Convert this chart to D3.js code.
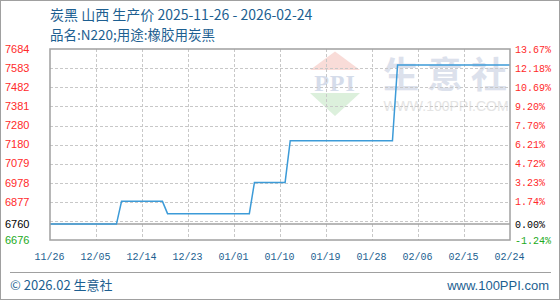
<!DOCTYPE html>
<html><head><meta charset="utf-8">
<script src="https://cdn.jsdelivr.net/npm/d3@7"></script>
<style>
html,body{margin:0;padding:0;background:#fff;}
svg{display:block;}
</style></head>
<body>
<svg id="chart" width="560" height="300"></svg>
<script>
// ---- data ----
const titleText = "炭黑 山西 生产价 2025-11-26 - 2026-02-24";
const subtitleText = "品名:N220;用途:橡胶用炭黑";
const seriesDates = ["2025-11-26","2025-12-09","2025-12-10","2025-12-18","2025-12-19","2026-01-04","2026-01-05","2026-01-11","2026-01-12","2026-02-01","2026-02-02","2026-02-24"];
const seriesValues = [6760,6760,6880,6880,6815,6815,6980,6980,7200,7200,7600,7600];
const xTickDates = ["2025-11-26","2025-12-05","2025-12-14","2025-12-23","2026-01-01","2026-01-10","2026-01-19","2026-01-28","2026-02-06","2026-02-15","2026-02-24"];
const gridValues = [7684,7583,7482,7381,7280,7180,7079,6978,6877,6777];
const leftTickValues = [7684,7583,7482,7381,7280,7180,7079,6978,6877,6760,6676];
const leftTickLabels = ["7684","7583","7482","7381","7280","7180","7079","6978","6877","6760","6676"];
const rightTickLabels = ["13.67%","12.18%","10.69%","9.20%","7.70%","6.21%","4.72%","3.23%","1.74%","0.00%","-1.24%"];
const baseValue = 6760;
const yMin = 6676, yMax = 7684;

// ---- layout ----
const svg = d3.select("#chart");
const L = 50, R = 510, T = 49, B = 240;
const parse = d3.timeParse("%Y-%m-%d");
const fmt = d3.timeFormat("%m/%d");
const x = d3.scaleTime().domain([parse(xTickDates[0]), parse(xTickDates[xTickDates.length-1])]).range([L, R]);
const y = d3.scaleLinear().domain([yMin, yMax]).range([B, T]);
const blue = "#1d5f91";

// outer border
svg.append("rect").attr("x",0.5).attr("y",0.5).attr("width",559).attr("height",299)
  .attr("fill","none").attr("stroke","#a0a0a0").attr("stroke-width",1);

// titles
svg.append("text").attr("x",50).attr("y",20).attr("fill",blue)
  .attr("font-family","'Noto Sans CJK SC', sans-serif").attr("font-size",14).text(titleText);
svg.append("text").attr("x",50).attr("y",39.5).attr("fill",blue)
  .attr("font-family","'Noto Sans CJK SC', sans-serif").attr("font-size",13.5).text(subtitleText);

// watermark
const wm = svg.append("g");
wm.append("path").attr("d", d3.line()([[310,70],[335,51.5],[360,70]]) + "Z").attr("fill","#f9dcd8");
wm.append("text").attr("x",335).attr("y",91).attr("text-anchor","middle")
  .attr("font-family","'Liberation Serif', serif").attr("font-weight","bold").attr("font-size",24)
  .attr("fill","#d5dcea").attr("letter-spacing",1).text("PPI");
wm.append("path").attr("d", d3.line()([[310,93],[360,93],[335,116]]) + "Z").attr("fill","#dcf0dc");
wm.append("text").attr("x",449).attr("y",88).attr("text-anchor","middle")
  .attr("font-family","'Noto Sans CJK SC', sans-serif").attr("font-weight","bold").attr("font-size",36)
  .attr("fill","#dce1ec").attr("letter-spacing",8).text("生意社");
wm.append("text").attr("x",446).attr("y",111).attr("text-anchor","middle")
  .attr("font-family","'Liberation Sans', sans-serif").attr("font-size",14)
  .attr("fill","#e4e4e4").text("WWW.100PPI.COM");

// grid lines
const grid = svg.append("g").attr("stroke","#c8c8c8").attr("stroke-width",1).attr("stroke-dasharray","3,2");
grid.selectAll("line.h").data(gridValues.slice(1)).join("line").attr("class","h")
  .attr("x1",L).attr("x2",R).attr("y1",d=>Math.round(y(d))+0.5).attr("y2",d=>Math.round(y(d))+0.5);
grid.selectAll("line.v").data(xTickDates.slice(1,-1)).join("line").attr("class","v")
  .attr("x1",d=>Math.round(x(parse(d)))+0.5).attr("x2",d=>Math.round(x(parse(d)))+0.5).attr("y1",T).attr("y2",B);

// base line
svg.append("line").attr("x1",L).attr("x2",R).attr("y1",y(baseValue)).attr("y2",y(baseValue))
  .attr("stroke","#a0a0a0").attr("stroke-width",1.5);

// data line
const pts = seriesDates.map((d,i)=>[parse(d), seriesValues[i]]);
svg.append("path").datum(pts)
  .attr("d", d3.line().x(d=>x(d[0])).y(d=>y(d[1])))
  .attr("fill","none").attr("stroke","#3c9bd8").attr("stroke-width",1.5);

// plot border
svg.append("rect").attr("x",L).attr("y",T).attr("width",R-L).attr("height",B-T)
  .attr("fill","none").attr("stroke","#a0a0a0").attr("stroke-width",1.5);

// left labels
const colorFor = (v)=> v > baseValue ? "#ff2a2a" : (v === baseValue ? "#000" : "#22aa22");
svg.append("g").selectAll("text").data(leftTickValues).join("text")
  .attr("x",5).attr("y",d=>y(d)).attr("dy","0.35em")
  .attr("font-family","'Liberation Sans', sans-serif").attr("font-size",11)
  .attr("fill",d=>colorFor(d)).text((d,i)=>leftTickLabels[i]);

// right labels
svg.append("g").selectAll("text").data(leftTickValues).join("text")
  .attr("x",515).attr("y",d=>y(d)).attr("dy","0.35em")
  .attr("font-family","'Liberation Mono', monospace").attr("font-size",10)
  .attr("fill",d=>colorFor(d)).text((d,i)=>rightTickLabels[i]);

// x axis labels
const xAxis = d3.axisBottom(x).tickValues(xTickDates.map(parse)).tickFormat(fmt).tickSize(0).tickPadding(0);
const gx = svg.append("g").attr("transform",`translate(-1,${B})`).call(xAxis);
gx.select(".domain").remove();
gx.selectAll("text").attr("y",16.5).attr("dy","0.35em")
  .attr("font-family","'Liberation Mono', monospace").attr("font-size",10).attr("fill",blue);

// footer
svg.append("line").attr("x1",10).attr("x2",551).attr("y1",272.5).attr("y2",272.5)
  .attr("stroke","#a0a0a0").attr("stroke-width",1);
svg.append("text").attr("x",10).attr("y",290).attr("fill",blue)
  .attr("font-family","'Noto Sans CJK SC', sans-serif").attr("font-size",13).text("© 2026.02 生意社");
svg.append("text").attr("x",549).attr("y",290).attr("text-anchor","end").attr("fill",blue)
  .attr("font-family","'Liberation Sans', sans-serif").attr("font-size",13).text("www.100PPI.com");
</script>
</body></html>
